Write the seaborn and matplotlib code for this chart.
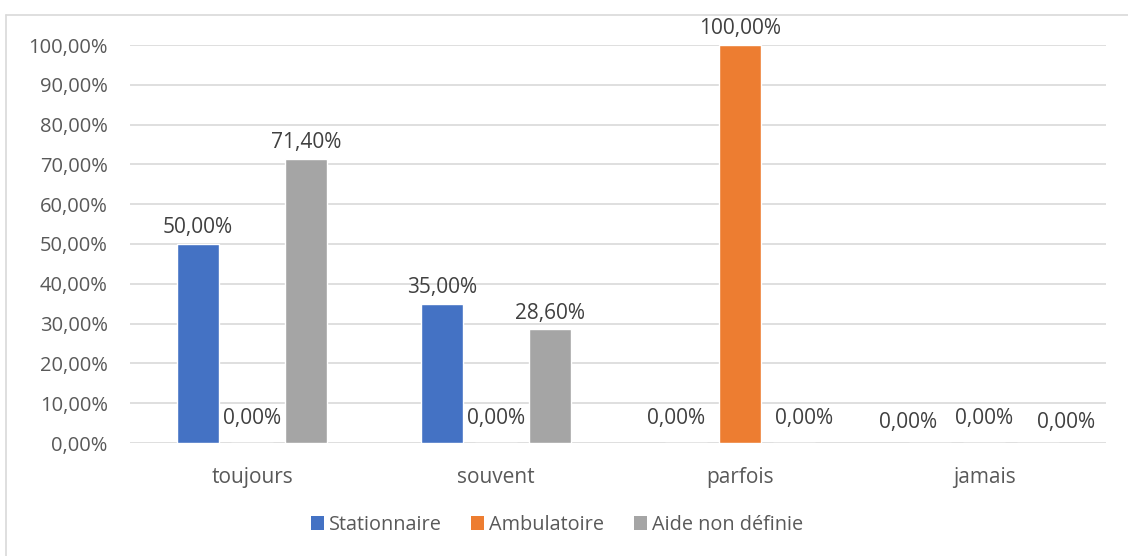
import matplotlib
matplotlib.use("Agg")
import matplotlib.pyplot as plt
from matplotlib.lines import Line2D
from matplotlib.patches import Patch
import seaborn as sns
import pandas as pd

categories = ["toujours", "souvent", "parfois", "jamais"]
series_names = ["Stationnaire", "Ambulatoire", "Aide non définie"]
stationnaire = [50.0, 35.0, 0.0, 0.0]
ambulatoire = [0.0, 0.0, 100.0, 0.0]
aide_non_definie = [71.4, 28.6, 0.0, 0.0]
y_ticks = [0, 10, 20, 30, 40, 50, 60, 70, 80, 90, 100]

colors = ["#4472C4", "#ED7D31", "#A5A5A5"]

df = pd.DataFrame({
    "categorie": categories * 3,
    "serie": [series_names[0]] * 4 + [series_names[1]] * 4 + [series_names[2]] * 4,
    "valeur": stationnaire + ambulatoire + aide_non_definie,
})

sns.set_theme(style="white")
plt.rcParams["font.family"] = ["Open Sans", "DejaVu Sans"]

fig = plt.figure(figsize=(11.28, 5.56), dpi=100)
ax = fig.add_axes([130 / 1128, 1 - 443 / 556, (1106 - 130) / 1128, (443 - 45) / 556])

sns.barplot(data=df, x="categorie", y="valeur", hue="serie", order=categories,
            hue_order=series_names, palette=colors, width=0.664, gap=0.22,
            saturation=1, legend=False, ax=ax)

ax.set_ylim(0, 100)
ax.set_xlim(-0.5, len(categories) - 0.5)
ax.set_yticks(y_ticks)
ax.set_yticklabels([f"{t:.2f}".replace(".", ",") + "%" for t in y_ticks])
ax.yaxis.grid(True, color="#D9D9D9", linewidth=1.2)
ax.set_axisbelow(True)
for s in ax.spines.values():
    s.set_visible(False)
ax.tick_params(axis="y", length=0, pad=16, labelsize=14.5, labelcolor="#595959")
ax.tick_params(axis="x", length=0, pad=17, labelsize=15, labelcolor="#595959")
ax.set_xlabel("")
ax.set_ylabel("")

# value labels above each bar; zero labels nudged sideways where they would collide
nudges = {(2, 0): -7, (2, 2): 7, (3, 0): -16, (3, 2): 20}
lift = {(3, 0): -3, (3, 2): -3}
for si, container in enumerate(ax.containers):
    for ci, bar in enumerate(container):
        v = bar.get_height()
        label = f"{v:.2f}".replace(".", ",") + "%"
        x = bar.get_x() + bar.get_width() / 2
        dy = 4 if v > 0 else 10
        ax.annotate(label, (x, v), xytext=(nudges.get((ci, si), 0), dy + lift.get((ci, si), 0)),
                    textcoords="offset points", ha="center", va="bottom",
                    fontsize=15, color="#404040", annotation_clip=False)

handles = [Patch(facecolor=c, edgecolor="none") for c in colors]
fig.legend(handles, series_names, loc="center", bbox_to_anchor=(557 / 1128, 1 - 525 / 556),
           ncol=3, frameon=False, fontsize=14.3, handlelength=0.65, handleheight=0.65,
           handletextpad=0.25, columnspacing=1.5, labelcolor="#595959")

# chart frame
fig.add_artist(Line2D([6 / 1128, 1.0], [1 - 15 / 556, 1 - 15 / 556], transform=fig.transFigure,
                      color="#D9D9D9", linewidth=1.2))
fig.add_artist(Line2D([6 / 1128, 6 / 1128], [0.0, 1 - 15 / 556], transform=fig.transFigure,
                      color="#D9D9D9", linewidth=1.2))

fig.savefig("out.png", dpi=100)
